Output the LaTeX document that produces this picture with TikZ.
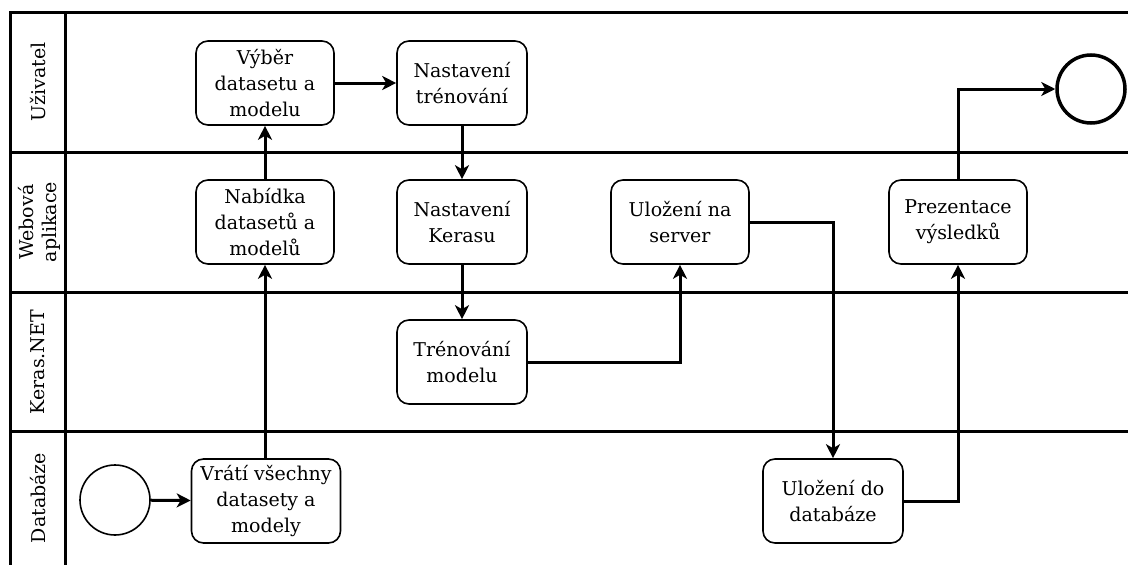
\documentclass[tikz,border=0pt]{standalone}
\usepackage{fontspec}
\setmainfont{DejaVu Serif}
\usetikzlibrary{arrows.meta}
\begin{document}
\begin{tikzpicture}[x=1pt,y=-1pt,
  lane/.style={line width=3pt},
  task/.style={draw,line width=1.6pt,rounded corners=12pt,minimum width=138pt,minimum height=84pt,
    align=center,inner sep=2pt,font=\fontsize{19}{26}\selectfont},
  lanelabel/.style={rotate=90,align=center,font=\fontsize{19}{23}\selectfont},
  flow/.style={line width=3pt,-{Stealth[length=14pt,width=14pt,inset=4pt]}},
  event/.style={circle,draw,minimum size=70pt,inner sep=0pt}]
\useasboundingbox (0,0) rectangle (1128,565);
% pool frame and lane separators
\draw[lane] (1128,12) -- (10,12) -- (10,565);
\draw[lane] (65,12) -- (65,565);
\draw[lane] (10,152) -- (1128,152);
\draw[lane] (10,292) -- (1128,292);
\draw[lane] (10,431) -- (1128,431);
% lane titles
\node[lanelabel] (l1) at (38,82) {Uživatel};
\node[lanelabel] (l2) at (39,222) {Webová\\aplikace};
\node[lanelabel] (l3) at (38,362) {Keras.NET};
\node[lanelabel] (l4) at (38,498) {Databáze};
% events
\node[event,line width=1.6pt] (start) at (115,500) {};
\node[event,line width=3.5pt,minimum size=68pt] (end) at (1091,89) {};
% tasks
\node[task] (vyber) at (265,83) {Výběr\\datasetu a\\modelu};
\node[task,minimum width=130pt] (trening) at (462,83) {Nastavení\\trénování};
\node[task] (nabidka) at (265,222) {Nabídka\\datasetů a\\modelů};
\node[task,minimum width=130pt] (keras) at (462,222) {Nastavení\\Kerasu};
\node[task] (server) at (680,222) {Uložení na\\server};
\node[task] (prez) at (958,222) {Prezentace\\výsledků};
\node[task,minimum width=130pt] (trenovani) at (462,362) {Trénování\\modelu};
\node[task,minimum width=149pt] (vrati) at (266,501) {Vrátí všechny\\datasety a\\modely};
\node[task,minimum width=140pt] (db) at (833,501) {Uložení do\\databáze};
% sequence flows
\draw[flow] (start) -- (vrati);
\draw[flow] (vrati.north -| nabidka) -- (nabidka);
\draw[flow] (nabidka) -- (vyber);
\draw[flow] (vyber) -- (trening);
\draw[flow] (trening) -- (keras);
\draw[flow] (keras) -- (trenovani);
\draw[flow] (trenovani.east) -| (server.south);
\draw[flow] (server.east) -| (db.north);
\draw[flow] (db.east) -| (prez.south);
\draw[flow] (prez.north) |- (end.west);
\end{tikzpicture}
\end{document}
